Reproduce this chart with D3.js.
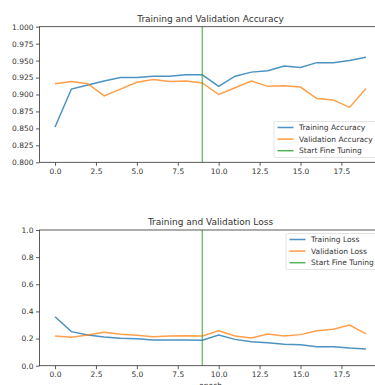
<!DOCTYPE html>
<html>
<head>
<meta charset="utf-8">
<script src="https://cdn.jsdelivr.net/npm/d3@7"></script>
<style>
  body { margin: 0; background: #fff; }
  svg { display: block; overflow: hidden; }
  text { font-family: "DejaVu Sans", sans-serif; fill: #333; }
  .tick text { font-size: 7.5px; fill: #333; font-family: "DejaVu Sans", sans-serif; }
  .tick line { stroke: #333; stroke-width: 0.8; }
  .domain { display: none; }
</style>
</head>
<body>
<div id="chart"></div>
<script>
// epochs and values
var epochs = d3.range(20);
var fineTuneAt = 9;

var trainAcc = [0.852, 0.908, 0.914, 0.920, 0.925, 0.925, 0.927, 0.927, 0.929, 0.929,
                0.912, 0.927, 0.933, 0.935, 0.942, 0.940, 0.947, 0.947, 0.950, 0.955];
var valAcc   = [0.916, 0.919, 0.916, 0.898, 0.908, 0.918, 0.922, 0.919, 0.920, 0.917,
                0.900, 0.910, 0.920, 0.912, 0.913, 0.911, 0.894, 0.892, 0.881, 0.909];
var trainLoss = [0.361, 0.251, 0.226, 0.212, 0.202, 0.199, 0.189, 0.189, 0.189, 0.187,
                 0.226, 0.194, 0.177, 0.170, 0.158, 0.155, 0.140, 0.140, 0.130, 0.123];
var valLoss   = [0.219, 0.209, 0.226, 0.246, 0.231, 0.224, 0.214, 0.219, 0.221, 0.219,
                 0.258, 0.219, 0.204, 0.234, 0.219, 0.229, 0.258, 0.268, 0.300, 0.234];

var xTicks = [0, 2.5, 5, 7.5, 10, 12.5, 15, 17.5];
var accTicks = [0.800, 0.825, 0.850, 0.875, 0.900, 0.925, 0.950, 0.975, 1.000];
var lossTicks = [0.0, 0.2, 0.4, 0.6, 0.8, 1.0];

var blue = "#1f77b4", orange = "#ff7f0e", green = "#2ca02c";

var W = 375, H = 385;
var svg = d3.select("#chart").append("svg")
  .attr("width", W)
  .attr("height", H);

// shared x scale (matplotlib 5% margins, right side runs past the frame)
var x = d3.scaleLinear().domain([-0.95, 19.95]).range([39.5, 381.5]);

function panel(cfg) {
  var y = d3.scaleLinear().domain(cfg.ydom).range([cfg.bottom, cfg.top]);
  var g = svg.append("g");

  // axes
  g.append("g")
    .attr("transform", "translate(0," + cfg.bottom + ")")
    .call(d3.axisBottom(x).tickValues(xTicks).tickFormat(d3.format(".1f")).tickSize(3.5).tickPadding(2.5));
  g.append("g")
    .attr("transform", "translate(" + x.range()[0] + ",0)")
    .call(d3.axisLeft(y).tickValues(cfg.yticks).tickFormat(d3.format(cfg.yfmt)).tickSize(3.5).tickPadding(2.5));

  var line = d3.line()
    .x(function(d, i) { return x(epochs[i]); })
    .y(function(d) { return y(d); });

  g.append("path").datum(cfg.train)
    .attr("fill", "none").attr("stroke", blue).attr("stroke-width", 1.5)
    .attr("stroke-opacity", 0.8).attr("d", line);
  g.append("path").datum(cfg.val)
    .attr("fill", "none").attr("stroke", orange).attr("stroke-width", 1.5)
    .attr("stroke-opacity", 0.75).attr("d", line);

  // start fine tuning marker
  g.append("line")
    .attr("x1", x(fineTuneAt)).attr("x2", x(fineTuneAt))
    .attr("y1", cfg.top).attr("y2", cfg.bottom)
    .attr("stroke", green).attr("stroke-width", 1.5).attr("stroke-opacity", 0.65);

  // frame
  g.append("rect")
    .attr("x", x.range()[0]).attr("y", cfg.top)
    .attr("width", x.range()[1] - x.range()[0]).attr("height", cfg.bottom - cfg.top)
    .attr("fill", "none").attr("stroke", "#333").attr("stroke-width", 0.8);

  g.append("text")
    .attr("x", (x.range()[0] + x.range()[1]) / 2)
    .attr("y", cfg.top - 5)
    .attr("text-anchor", "middle")
    .style("font-size", "9px")
    .text(cfg.title);

  // legend
  var lg = g.append("g").attr("transform", "translate(" + cfg.legX + "," + cfg.legY + ")");
  lg.append("rect")
    .attr("width", 120).attr("height", 36).attr("rx", 1.5)
    .attr("fill", "#fff").attr("fill-opacity", 0.8)
    .attr("stroke", "#ddd").attr("stroke-width", 0.8);
  var items = [[cfg.names[0], blue], [cfg.names[1], orange], ["Start Fine Tuning", green]];
  items.forEach(function(it, i) {
    var yy = 6 + i * 11.6;
    lg.append("line").attr("x1", 3.5).attr("x2", 19.5).attr("y1", yy).attr("y2", yy)
      .attr("stroke", it[1]).attr("stroke-width", 1.5).attr("stroke-opacity", 0.8);
    lg.append("text").attr("x", 25).attr("y", yy + 2.7)
      .style("font-size", "7.5px").text(it[0]);
  });
}

panel({
  top: 26.7, bottom: 162.3, ydom: [0.8, 1.0], yticks: accTicks, yfmt: ".3f",
  train: trainAcc, val: valAcc, title: "Training and Validation Accuracy",
  names: ["Training Accuracy", "Validation Accuracy"], legX: 274, legY: 121.5
});

panel({
  top: 230, bottom: 365.7, ydom: [0, 1.0], yticks: lossTicks, yfmt: ".1f",
  train: trainLoss, val: valLoss, title: "Training and Validation Loss",
  names: ["Training Loss", "Validation Loss"], legX: 286, legY: 233.5
});

// x label sits at the bottom edge, partly cut off as in the original
svg.append("text")
  .attr("x", (x.range()[0] + x.range()[1]) / 2)
  .attr("y", 387.5)
  .attr("text-anchor", "middle")
  .style("font-size", "7.5px")
  .text("epoch");
</script>
</body>
</html>
